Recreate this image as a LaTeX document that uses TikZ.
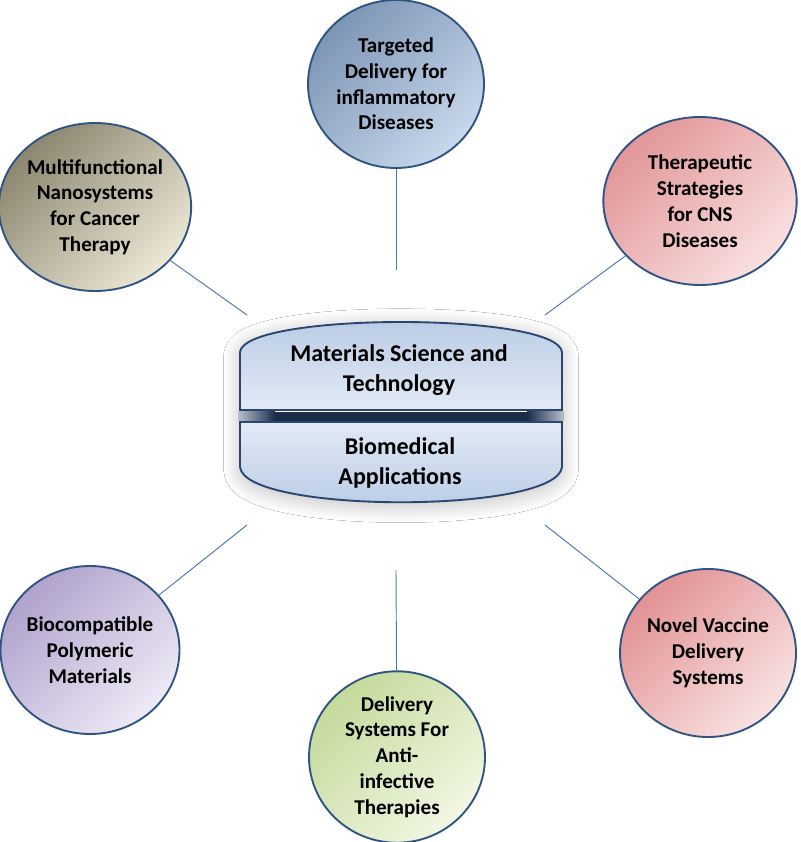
\documentclass[tikz,border=0pt]{standalone}
\usepackage{fontspec}
\setmainfont{Carlito}
\usetikzlibrary{shapes.geometric,shadows.blur}

\definecolor{rim}{HTML}{2F5382}
\definecolor{wire}{HTML}{4A77AA}
\definecolor{hubrim}{HTML}{2A4670}
\definecolor{hubdark}{HTML}{B7CAE4}
\definecolor{hublight}{HTML}{E2EAF5}
\definecolor{barnavy}{HTML}{1B2C4A}
\definecolor{barend}{HTML}{B8C2CE}

\begin{document}
\begin{tikzpicture}[x=0.03cm,y=-0.03cm]
        \fill[white] (0,0) rectangle (800,842);
        \useasboundingbox (0,0) rectangle (800,842);
        \tikzstyle{bubble} = [ellipse,draw=rim,line width=1.6pt,minimum width=5.28cm,minimum height=5.04cm,inner sep=0pt,align=center,font=\fontsize{18}{22}\selectfont\bfseries]
        \tikzstyle{hubtext} = [align=center,font=\fontsize{20.5}{25.5}\selectfont\bfseries]
        % the hub in the middle
        \fill[white,blur shadow={shadow xshift=0pt,shadow yshift=-3pt,shadow blur radius=0.55cm,shadow blur steps=30,shadow opacity=28}]
          (242,467) -- (242,352) .. controls (247,314) and (555,314) .. (560,352) -- (560,467) .. controls (555,512) and (247,512) .. (242,467) -- cycle;
        \draw[hubrim,line width=1.6pt,top color=hubdark,bottom color=hublight]
          (240,410) -- (240,352) .. controls (245,312) and (557,312) .. (562,352) -- (562,410) -- cycle;
        \draw[hubrim,line width=1.6pt,top color=hublight,bottom color=hubdark]
          (240,422) -- (240,467) .. controls (245,514) and (557,514) .. (562,467) -- (562,422) -- cycle;
        \fill[barnavy] (275,411.5) rectangle (527,420.5);
        \fill[left color=barend,right color=barnavy] (238,411.5) rectangle (275,420.5);
        \fill[left color=barnavy,right color=barend] (527,411.5) rectangle (564,420.5);
        \node[hubtext] (mst) at (399,370) {Materials Science and\\Technology};
        \node[hubtext] (bio) at (400,463) {Biomedical\\Applications};
        % the six topics
        \node[bubble,top color={rgb,255:red,125;green,149;blue,181},bottom color={rgb,255:red,200;green,216;blue,236},shading angle=45] (inflam) at (396,84) {Targeted\\Delivery for\\inflammatory\\Diseases};
        \node[bubble,top color={rgb,255:red,140;green,134;blue,112},bottom color={rgb,255:red,236;green,232;blue,214},shading angle=45] (cancer) at (95,207) {Multifunctional\\Nanosystems\\for Cancer\\Therapy};
        \node[bubble,minimum width=5.8cm,top color={rgb,255:red,226;green,150;blue,152},bottom color={rgb,255:red,249;green,224;blue,224},shading angle=45] (cns) at (700,201) {Therapeutic\\Strategies\\for CNS\\Diseases};
        \node[bubble,top color={rgb,255:red,176;green,162;blue,204},bottom color={rgb,255:red,238;green,234;blue,246},shading angle=45] (poly) at (90,650) {Biocompatible\\Polymeric\\Materials};
        \node[bubble,top color={rgb,255:red,226;green,146;blue,148},bottom color={rgb,255:red,249;green,226;blue,226},shading angle=45] (vaccine) at (708,653) {Novel Vaccine\\Delivery\\Systems};
        \node[bubble,top color={rgb,255:red,196;green,218;blue,154},bottom color={rgb,255:red,242;green,247;blue,228},shading angle=45] (anti) at (397,757) {Delivery\\Systems For\\Anti-\\infective\\Therapies};
        % loose ends near the hub
        \coordinate (inflamEnd) at (396,270);
        \coordinate (cancerEnd) at (247,315);
        \coordinate (cnsEnd) at (545,315);
        \coordinate (polyEnd) at (247,525);
        \coordinate (vaccineEnd) at (545,525);
        \coordinate (antiEnd) at (396,570);
        \draw[wire,line width=0.8pt] (inflam) -- (inflamEnd);
        \draw[wire,line width=0.8pt] (cancer) -- (cancerEnd);
        \draw[wire,line width=0.8pt] (cns) -- (cnsEnd);
        \draw[wire,line width=0.8pt] (poly) -- (polyEnd);
        \draw[wire,line width=0.8pt] (vaccine) -- (vaccineEnd);
        \draw[wire,line width=0.8pt] (anti) -- (antiEnd);
\end{tikzpicture}
\end{document}
